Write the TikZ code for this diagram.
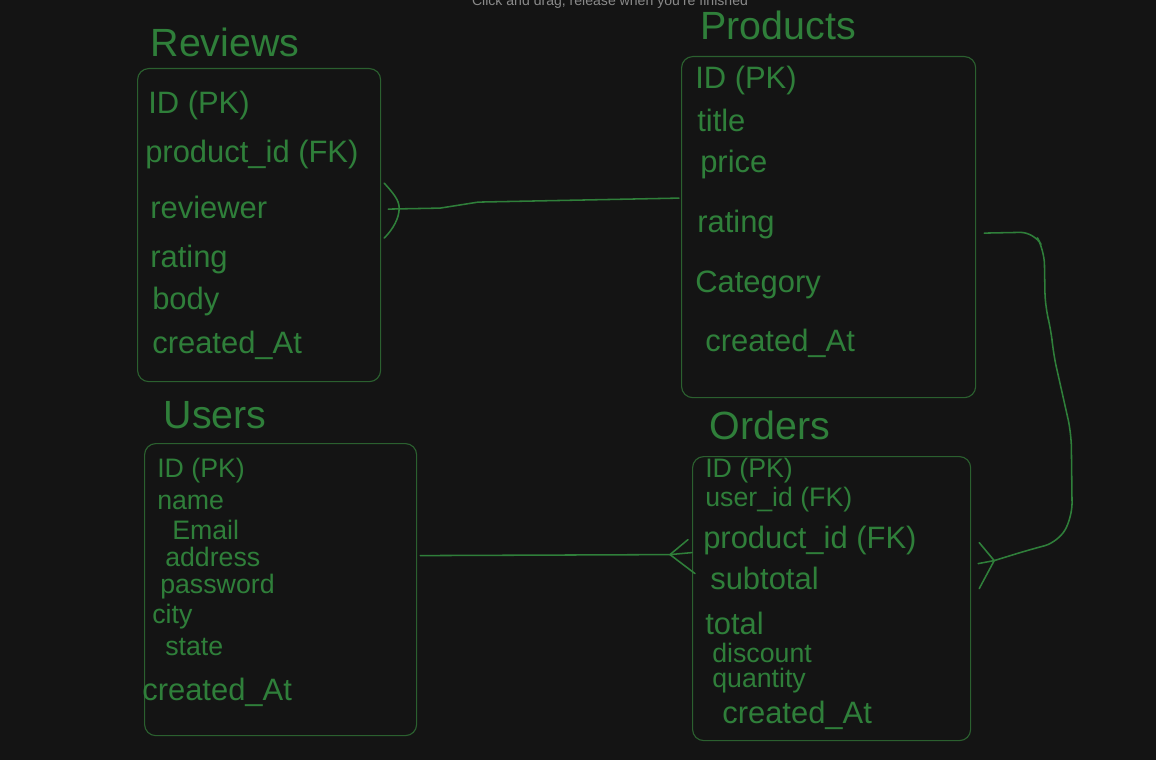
\documentclass[tikz,border=0pt]{standalone}
\usepackage{fontspec}
\setmainfont{Liberation Sans}
\usetikzlibrary{positioning,calc}

\definecolor{bgdark}{HTML}{141414}
\definecolor{ink}{HTML}{2F7F3A}
\definecolor{frame}{HTML}{2B602F}
\definecolor{hint}{HTML}{8A8A8A}

\begin{document}
\begin{tikzpicture}[x=0.025cm, y=-0.025cm,
    table/.style={draw=frame, line width=0.8pt, rounded corners=8, anchor=north west, inner sep=0pt},
    field/.style={anchor=west, text=ink, inner sep=0pt, font=\fontsize{22}{24}\selectfont},
    small/.style={font=\fontsize{19}{21}\selectfont},
    title/.style={text=ink, inner sep=0pt, font=\fontsize{28}{30}\selectfont},
    link/.style={draw=ink, line width=1.1pt, line cap=round, line join=round}]
  \useasboundingbox (0,0) rectangle (1156,760);
  \fill[bgdark] (0,0) rectangle (1156,760);
  \node[text=hint, anchor=base, inner sep=0pt, font=\fontsize{10}{12}\selectfont] (hint) at (610,6) {Click and drag, release when you're finished};

  % tables
  \node[table, minimum width=6.075cm, minimum height=7.825cm] (reviews) at (137,68) {};
  \node[table, minimum width=7.35cm, minimum height=8.525cm] (products) at (681,56) {};
  \node[table, minimum width=6.8cm, minimum height=7.3cm] (users) at (144,443) {};
  \node[table, minimum width=6.95cm, minimum height=7.1cm] (orders) at (692,456) {};

  \node[title] (reviewsT) at (225,42) {Reviews};
  \node[title] (productsT) at (778,25) {Products};
  \node[title] (usersT) at (215,415) {Users};
  \node[title] (ordersT) at (770,425) {Orders};

  % reviews fields
  \node[field] (rv1) at (148,105) {ID (PK)};
  \node[field] (rv2) at (145,155) {product\_id (FK)};
  \node[field] (rv3) at (150,207) {reviewer};
  \node[field] (rv4) at (150,260) {rating};
  \node[field] (rv5) at (152,302) {body};
  \node[field] (rv6) at (152,345) {created\_At};

  % products fields
  \node[field] (pr1) at (695,80) {ID (PK)};
  \node[field] (pr2) at (697,120) {title};
  \node[field] (pr3) at (700,165) {price};
  \node[field] (pr4) at (697,225) {rating};
  \node[field] (pr5) at (695,285) {Category};
  \node[field] (pr6) at (705,343) {created\_At};

  % users fields
  \node[field, small] (us1) at (157,471) {ID (PK)};
  \node[field, small] (us2) at (157,502) {name};
  \node[field, small] (us3) at (172,530) {Email};
  \node[field, small] (us4) at (165,557) {address};
  \node[field, small] (us5) at (160,587) {password};
  \node[field, small] (us6) at (152,617) {city};
  \node[field, small] (us7) at (165,647) {state};
  \node[field] (us8) at (142,692) {created\_At};

  % orders fields
  \node[field, small] (or1) at (705,471) {ID (PK)};
  \node[field, small] (or2) at (705,500) {user\_id (FK)};
  \node[field] (or3) at (703,540) {product\_id (FK)};
  \node[field] (or4) at (710,578) {subtotal};
  \node[field] (or5) at (705,623) {total};
  \node[field, small] (or6) at (712,653) {discount};
  \node[field, small] (or7) at (712,681) {quantity};
  \node[field] (or8) at (722,715) {created\_At};

  % reviews >-- products
  \coordinate (rvFoot) at ($(reviews.east)+(18,-17)$);
  \draw[link] ($(reviews.east)+(3,-42)$) .. controls +(9,10) and +(0,-8) .. (rvFoot)
    .. controls +(0,10) and +(9,-9) .. ($(reviews.east)+(3,13)$);
  \draw[link] ($(reviews.east)+(7,-16)$) -- ++(52,-1) -- ++(38,-6) -- ($(products.west)+(-2,-29)$);

  % users --< orders
  \coordinate (orFootL) at ($(orders.west)+(-22,-44)$);
  \draw[link] ($(users.east)+(3,-34)$) -- (orFootL);
  \draw[link] ($(orders.west)+(-4,-59)$) -- (orFootL) -- ($(orders.west)+(3,-25)$);
  \draw[link] (orFootL) -- ($(orders.west)+(0,-46)$);

  % products --< orders
  \coordinate (orFootR) at ($(orders.east)+(23,-38)$);
  \draw[link, rounded corners=10] ($(products.east)+(8,6)$) -- ++(50,-1) -- ++(10,18) -- ++(1,57)
    -- ++(6,23) -- ++(2,23) -- ++(18,80) -- ++(1,84) -- ++(-14,25) -- ++(-30,8) -- (orFootR);
  \draw[link] ($(orders.east)+(8,-56)$) -- (orFootR) -- ($(orders.east)+(8,-10)$);
  \draw[link] ($(orders.east)+(7,-35)$) -- (orFootR);
\end{tikzpicture}
\end{document}
